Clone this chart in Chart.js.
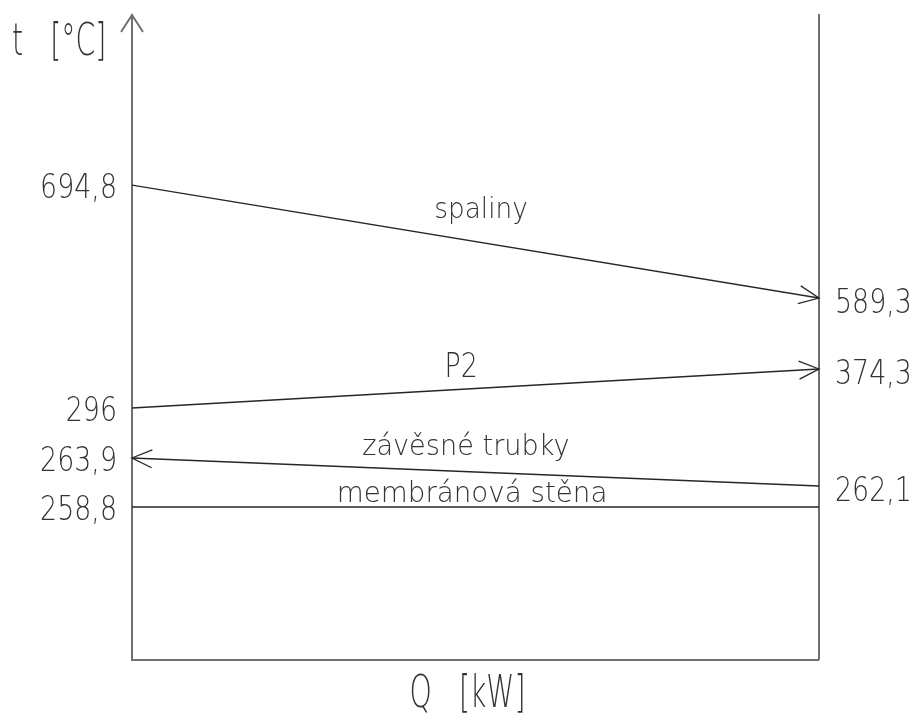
<!DOCTYPE html>
<html>
<head>
<meta charset="utf-8">
<title>t–Q diagram</title>
<script src="https://cdn.jsdelivr.net/npm/chart.js@4.4.1/dist/chart.umd.min.js"></script>
<style>
  html, body { margin: 0; padding: 0; background: #ffffff; }
  #wrap { width: 917px; height: 717px; }
</style>
</head>
<body>
<div id="wrap"><canvas id="chart" width="917" height="717"></canvas></div>
<script>
// Media passing through the heat exchanger section
const seriesNames = ['spaliny', 'P2', 'závěsné trubky', 'membránová stěna'];
// Temperature [°C] at the left (Q = 0) and right (Q = max) edge of the section
const leftTemps  = [694.8, 296, 263.9, 258.8];
const rightTemps = [589.3, 374.3, 262.1, 258.8];
// Direction of flow: 'end' = left to right, 'start' = right to left, '' = none shown
const flowDirs = ['end', 'end', 'start', ''];
// Relative heat duty at the two edges
const qEdges = [0, 1];
// Temperatures labelled on the left and on the right edge
const leftTickValues  = [694.8, 296, 263.9, 258.8];
const rightTickValues = [589.3, 374.3, 262.1];

const AXIS_COLOR = '#6f6f6f';
const LINE_COLOR = '#262626';
const TEXT_COLOR = '#333333';
const FONT_FAMILY = "'DejaVu Sans', 'Liberation Sans Narrow', sans-serif";

const fmtTemp = v => String(v).replace('.', ',');

// A schematic temperature axis: values are placed piecewise-linearly between knots
class KnotScale extends Chart.LinearScale {
  static id = 'knots';
  static defaults = {};
  _decimalFor(value) {
    const k = this.options.knots;
    if (value <= k[0][0]) return k[0][1];
    for (let i = 1; i < k.length; i++) {
      if (value <= k[i][0]) {
        const [v0, d0] = k[i - 1], [v1, d1] = k[i];
        return d0 + (value - v0) / (v1 - v0) * (d1 - d0);
      }
    }
    return k[k.length - 1][1];
  }
  getPixelForValue(value) {
    return value === null ? NaN : this.getPixelForDecimal(this._decimalFor(value));
  }
  getValueForPixel(pixel) {
    const d = this.getDecimalForPixel(pixel);
    const k = this.options.knots;
    for (let i = 1; i < k.length; i++) {
      if (d <= k[i][1]) {
        const [v0, d0] = k[i - 1], [v1, d1] = k[i];
        return v0 + (d - d0) / (d1 - d0) * (v1 - v0);
      }
    }
    return k[k.length - 1][0];
  }
}
Chart.register(KnotScale);

const tempKnots = [
  [240, 0], [258.8, 0.2372], [262.1, 0.2698], [263.9, 0.3132], [296, 0.3907],
  [374.3, 0.4512], [589.3, 0.5612], [694.8, 0.7364], [800, 1]
];

function tempAxis(position, tickValues, width) {
  return {
    type: 'knots',
    position,
    knots: tempKnots,
    min: 240,
    max: 800,
    afterBuildTicks: s => { s.ticks = tickValues.map(v => ({ value: v })); },
    afterFit: s => { s.width = width; },
    ticks: { display: false, callback: v => fmtTemp(v) },
    grid: { display: false, lineWidth: 0 },
    border: { display: true, color: AXIS_COLOR, width: 2 }
  };
}

function drawText(ctx, text, x, y, size, scaleX, align) {
  ctx.save();
  ctx.translate(x, y);
  ctx.scale(scaleX, 1);
  ctx.font = `200 ${size}px ${FONT_FAMILY}`;
  ctx.fillStyle = TEXT_COLOR;
  ctx.textAlign = align;
  ctx.textBaseline = 'alphabetic';
  ctx.fillText(text, 0, 0);
  ctx.restore();
}

function drawArrowHead(ctx, tip, from, len, half) {
  const dx = tip.x - from.x, dy = tip.y - from.y;
  const d = Math.hypot(dx, dy) || 1;
  const ux = dx / d, uy = dy / d;
  ctx.beginPath();
  ctx.moveTo(tip.x - ux * len - uy * half, tip.y - uy * len + ux * half);
  ctx.lineTo(tip.x, tip.y);
  ctx.lineTo(tip.x - ux * len + uy * half, tip.y - uy * len - ux * half);
  ctx.stroke();
}

// Flow arrows, the axis arrow, temperature labels, medium names and axis titles
const diagramDecor = {
  id: 'diagramDecor',
  afterDatasetsDraw(chart) {
    const ctx = chart.ctx;
    ctx.save();
    ctx.strokeStyle = LINE_COLOR;
    ctx.lineWidth = 1.3;
    chart.data.datasets.forEach((ds, i) => {
      const pts = chart.getDatasetMeta(i).data;
      if (ds.flow === 'end') drawArrowHead(ctx, pts[pts.length - 1], pts[pts.length - 2], 20, 9);
      if (ds.flow === 'start') drawArrowHead(ctx, pts[0], pts[1], 20, 9);
    });
    ctx.restore();
  },
  afterDraw(chart, args, opts) {
    const ctx = chart.ctx;
    const area = chart.chartArea;

    // arrow on top of the temperature axis
    ctx.save();
    ctx.strokeStyle = AXIS_COLOR;
    ctx.lineWidth = 2;
    ctx.beginPath();
    ctx.moveTo(area.left - 11, area.top + 17);
    ctx.lineTo(area.left, area.top);
    ctx.lineTo(area.left + 11, area.top + 17);
    ctx.stroke();
    ctx.restore();

    // temperature values from the axis ticks
    const yl = chart.scales.y, yr = chart.scales.y2;
    yl.ticks.forEach(t => {
      drawText(ctx, t.label, area.left - 15, yl.getPixelForValue(t.value) + 13, 34, 0.79, 'right');
    });
    yr.ticks.forEach(t => {
      drawText(ctx, t.label, area.right + 16, yr.getPixelForValue(t.value) + 15, 34, 0.79, 'left');
    });

    // names of the media above their lines
    const xs = chart.scales.x;
    opts.names.forEach((n, i) => {
      const pts = chart.getDatasetMeta(i).data;
      const a = pts[0], b = pts[pts.length - 1];
      const x = a.x + (b.x - a.x) * n.at;
      const y = a.y + (b.y - a.y) * n.at;
      drawText(ctx, chart.data.datasets[i].label, x, y - n.lift, n.size, n.scaleX, 'center');
    });

    // axis titles
    drawText(ctx, 't   [°C]', 12, 55, 45, 0.63, 'left');
    drawText(ctx, 'Q   [kW]', (xs.left + xs.right) / 2 - 8, 707, 45, 0.63, 'center');
  }
};

const datasets = seriesNames.map((name, i) => ({
  label: name,
  data: [
    { x: qEdges[0], y: leftTemps[i] },
    { x: qEdges[1], y: rightTemps[i] }
  ],
  flow: flowDirs[i],
  borderColor: LINE_COLOR,
  borderWidth: 1.3,
  pointRadius: 0,
  fill: false,
  tension: 0,
  yAxisID: 'y'
}));

new Chart(document.getElementById('chart'), {
  type: 'line',
  data: { datasets },
  plugins: [diagramDecor],
  options: {
    responsive: false,
    animation: false,
    events: [],
    layout: { padding: { top: 15, left: 0, right: 0, bottom: 0 } },
    plugins: {
      legend: { display: false },
      tooltip: { enabled: false },
      diagramDecor: {
        names: [
          { at: 0.508, lift: 24, size: 28, scaleX: 0.94 },
          { at: 0.479, lift: 12, size: 34, scaleX: 0.79 },
          { at: 0.486, lift: 17, size: 28, scaleX: 0.97 },
          { at: 0.495, lift: 5, size: 28, scaleX: 0.99 }
        ]
      }
    },
    scales: {
      x: {
        type: 'linear',
        min: 0,
        max: 1,
        afterFit: s => { s.height = 57; },
        ticks: { display: false },
        grid: { display: false, lineWidth: 0 },
        border: { display: true, color: AXIS_COLOR, width: 2 }
      },
      y: tempAxis('left', leftTickValues, 132),
      y2: tempAxis('right', rightTickValues, 98)
    }
  }
});
</script>
</body>
</html>
